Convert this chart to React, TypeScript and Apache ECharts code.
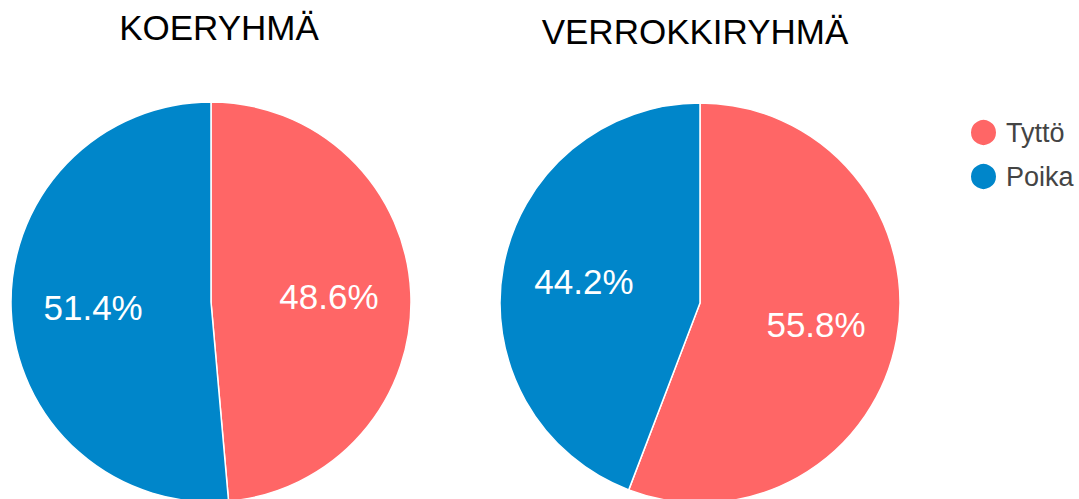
import React, { useEffect, useRef } from "react";
import * as echarts from "echarts";

const categories = ["Tyttö", "Poika"];
const koeValues = [48.6, 51.4];
const verrokkiValues = [55.8, 44.2];
const titles = ["KOERYHMÄ", "VERROKKIRYHMÄ"];
const colors = ["#ff6666", "#0086ca"];

export default function App() {
  const ref = useRef<HTMLDivElement>(null);
  useEffect(() => {
    const chart = echarts.init(ref.current!, null, { renderer: "svg" });
    const mk = (vals: number[]) => vals.map((v, i) => ({ name: categories[i], value: v }));
    const base = (vals: number[], center: [number, number]) => ({
      type: "pie",
      center,
      radius: 200,
      startAngle: 90,
      clockwise: true,
      silent: true,
      label: { show: false },
      labelLine: { show: false },
      itemStyle: { borderColor: "#fff", borderWidth: 1.5 },
      data: mk(vals),
    });
    const labels = (vals: number[], center: [number, number]) => ({
      type: "pie",
      center,
      radius: [30, 200],
      startAngle: 90,
      clockwise: true,
      silent: true,
      itemStyle: { color: "transparent" },
      label: {
        show: true,
        position: "inside",
        color: "#fff",
        fontSize: 35,
        fontFamily: "Liberation Sans, Arial, sans-serif",
        formatter: (p: any) => p.value.toFixed(1) + "%",
      },
      labelLine: { show: false },
      data: mk(vals),
    });
    chart.setOption({
      animation: false,
      color: colors,
      title: [
        {
          text: titles[0],
          left: 219,
          textAlign: "center",
          top: 10,
          padding: 0,
          textStyle: { fontSize: 35, fontWeight: "normal", color: "#000", fontFamily: "Liberation Sans, Arial, sans-serif" },
        },
        {
          text: titles[1],
          left: 695,
          textAlign: "center",
          top: 14,
          padding: 0,
          textStyle: { fontSize: 35, fontWeight: "normal", color: "#000", fontFamily: "Liberation Sans, Arial, sans-serif" },
        },
      ],
      legend: {
        data: categories,
        orient: "vertical",
        left: 969,
        top: 118,
        icon: "circle",
        itemWidth: 27,
        itemHeight: 27,
        itemGap: 15,
        padding: 0,
        textStyle: {
          fontSize: 27,
          lineHeight: 27,
          color: "#444",
          fontFamily: "Liberation Sans, Arial, sans-serif",
          padding: [0, 0, 0, 4],
        },
      },
      series: [
        base(koeValues, [211, 302]),
        base(verrokkiValues, [700, 303]),
        labels(koeValues, [211, 302]),
        labels(verrokkiValues, [700, 303]),
      ],
    });
    return () => chart.dispose();
  }, []);
  return (
    <div
      ref={ref}
      style={{ position: "fixed", left: 0, top: 0, width: 1079, height: 499, background: "#fff" }}
    />
  );
}
